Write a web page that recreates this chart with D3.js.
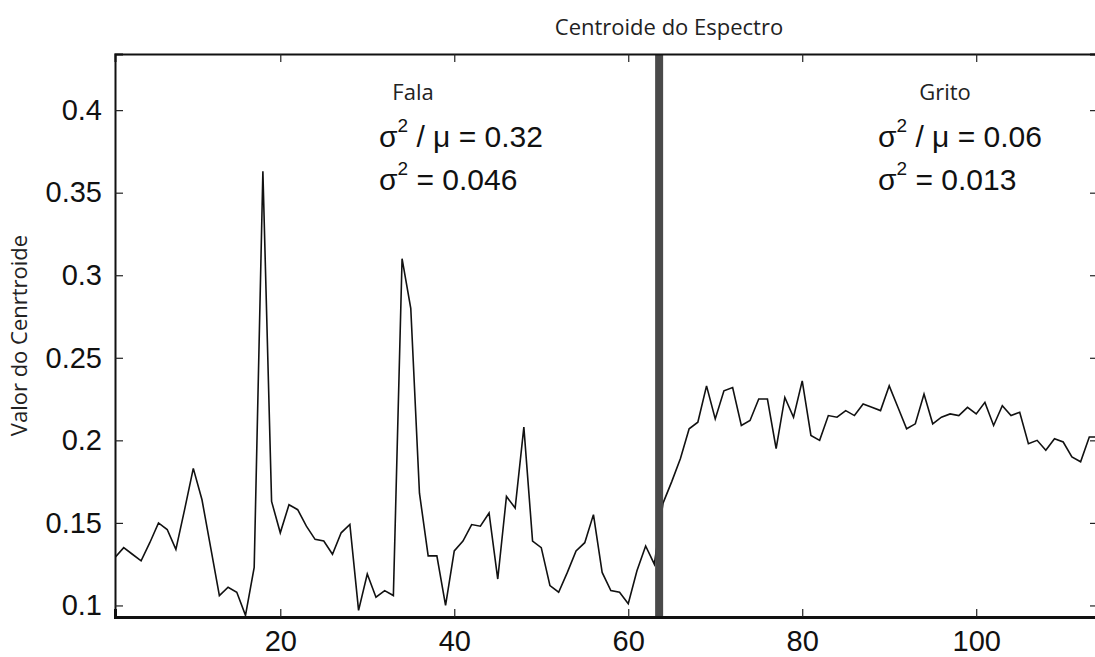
<html>
  <head>
    <script src="https://d3js.org/d3.v7.min.js"></script>
  <style>
    body { margin: 0; background: #fff; }
    .tick-label { font-family: "Liberation Sans", Arial, sans-serif; font-size: 29px; fill: #111; }
    .note { font-family: "Liberation Sans", Arial, sans-serif; font-size: 30px; fill: #111; }
    .small-label { font-family: "Open Sans", sans-serif; font-size: 22px; fill: #222; }
  </style>
  </head>

  <body>
    <svg id="mainSVG" width="1095" height="657"></svg>
  </body>

  <script>
      const svg = d3.select("#mainSVG");

      // plot area (right edge runs slightly past the picture, like the original crop)
      const margin = { top: 54, left: 115 };
      const plotRight = 1098;
      const plotBottom = 617;

      // centroid values, frame 1..63 = speech (Fala), frame 64..114 = scream (Grito)
      const falaValues = [
        0.129, 0.135, 0.131, 0.127, 0.138, 0.150, 0.146, 0.134, 0.158, 0.183,
        0.164, 0.135, 0.106, 0.111, 0.108, 0.094, 0.123, 0.363, 0.163, 0.144,
        0.161, 0.158, 0.148, 0.140, 0.139, 0.131, 0.144, 0.149, 0.097, 0.119,
        0.105, 0.109, 0.106, 0.310, 0.280, 0.168, 0.130, 0.130, 0.100, 0.133,
        0.139, 0.149, 0.148, 0.156, 0.116, 0.166, 0.159, 0.208, 0.139, 0.135,
        0.112, 0.108, 0.120, 0.133, 0.138, 0.155, 0.120, 0.109, 0.108, 0.101,
        0.121, 0.136, 0.125
      ];
      const gritoValues = [
        0.162, 0.175, 0.189, 0.207, 0.211, 0.233, 0.213, 0.230, 0.232, 0.209,
        0.212, 0.225, 0.225, 0.195, 0.226, 0.214, 0.236, 0.203, 0.200, 0.215,
        0.214, 0.218, 0.215, 0.222, 0.220, 0.218, 0.233, 0.220, 0.207, 0.210,
        0.228, 0.210, 0.214, 0.216, 0.215, 0.220, 0.216, 0.223, 0.209, 0.221,
        0.215, 0.217, 0.198, 0.200, 0.194, 0.201, 0.199, 0.190, 0.187, 0.202,
        0.202
      ];
      const xTicks = [20, 40, 60, 80, 100];
      const yTicks = [0.1, 0.15, 0.2, 0.25, 0.3, 0.35, 0.4];
      const dividerAt = 63.55;

      const data = falaValues.concat(gritoValues).map((v, i) => ({ frame: i + 1, value: v }));

      const xScale = d3.scaleLinear()
        .domain([1, 114])
        .range([margin.left, plotRight]);

      const yScale = d3.scaleLinear()
        .domain([0.093, 0.434])
        .range([plotBottom, margin.top]);

      svg.append("defs").append("clipPath")
        .attr("id", "plotClip")
        .append("rect")
        .attr("x", margin.left)
        .attr("y", margin.top)
        .attr("width", plotRight - margin.left)
        .attr("height", plotBottom - margin.top);

      // the line
      const line = d3.line()
        .x(d => xScale(d.frame))
        .y(d => yScale(d.value));

      svg.append("path")
        .datum(data)
        .attr("clip-path", "url(#plotClip)")
        .attr("fill", "none")
        .attr("stroke", "#111")
        .attr("stroke-width", 1.6)
        .attr("stroke-linejoin", "miter")
        .attr("d", line);

      // thick divider between Fala and Grito
      svg.append("rect")
        .attr("x", xScale(dividerAt) - 4)
        .attr("y", margin.top)
        .attr("width", 8)
        .attr("height", plotBottom - margin.top)
        .attr("fill", "#4a4a4a");

      // axes, matlab style: ticks inward on all four sides
      const xAxis = d3.axisBottom(xScale).tickValues(xTicks).tickSize(-8).tickPadding(13).tickFormat(d3.format("d"));
      const gx = svg.append("g")
        .attr("transform", `translate(0,${plotBottom})`)
        .call(xAxis);
      gx.selectAll("text").attr("class", "tick-label").attr("dy", "0.71em");

      const xTop = d3.axisTop(xScale).tickValues(xTicks).tickSize(-8).tickFormat("");
      const gxt = svg.append("g")
        .attr("transform", `translate(0,${margin.top})`)
        .call(xTop);

      const yAxis = d3.axisLeft(yScale).tickValues(yTicks).tickSize(-8).tickPadding(13).tickFormat(d3.format("~g"));
      const gy = svg.append("g")
        .attr("transform", `translate(${margin.left},0)`)
        .call(yAxis);
      gy.selectAll("text").attr("class", "tick-label");

      const yRight = d3.axisRight(yScale).tickValues(yTicks).tickSize(-8).tickFormat("");
      const gyr = svg.append("g")
        .attr("transform", `translate(${plotRight},0)`)
        .call(yRight);

      [gx, gxt, gy, gyr].forEach(g => {
        g.selectAll(".tick line").attr("stroke", "#222").attr("stroke-width", 1.2);
        g.select(".domain").attr("stroke", "#111").attr("stroke-width", 2);
      });
      gx.select(".domain").attr("stroke-width", 3);

      // title + y label
      svg.append("text")
        .attr("class", "small-label")
        .attr("x", 669)
        .attr("y", 35)
        .attr("text-anchor", "middle")
        .text("Centroide do Espectro");

      svg.append("text")
        .attr("class", "small-label")
        .attr("transform", `translate(27,${(margin.top + plotBottom) / 2}) rotate(-90)`)
        .attr("text-anchor", "middle")
        .text("Valor do Cenrtroide");

      // region notes
      const notes = [
        { name: "Fala", ratio: "0.32", variance: "0.046", nameX: 413, x: 379 },
        { name: "Grito", ratio: "0.06", variance: "0.013", nameX: 945, x: 878 }
      ];

      notes.forEach(n => {
        svg.append("text")
          .attr("class", "small-label")
          .attr("x", n.nameX)
          .attr("y", 100)
          .attr("text-anchor", "middle")
          .text(n.name);

        const t1 = svg.append("text").attr("class", "note").attr("x", n.x).attr("y", 147);
        t1.append("tspan").text("σ");
        t1.append("tspan").attr("font-size", "19px").attr("dy", -15).text("2");
        t1.append("tspan").attr("dy", 15).text(` / μ = ${n.ratio}`);

        const t2 = svg.append("text").attr("class", "note").attr("x", n.x).attr("y", 190);
        t2.append("tspan").text("σ");
        t2.append("tspan").attr("font-size", "19px").attr("dy", -15).text("2");
        t2.append("tspan").attr("dy", 15).text(` = ${n.variance}`);
      });
  </script>
</html>
